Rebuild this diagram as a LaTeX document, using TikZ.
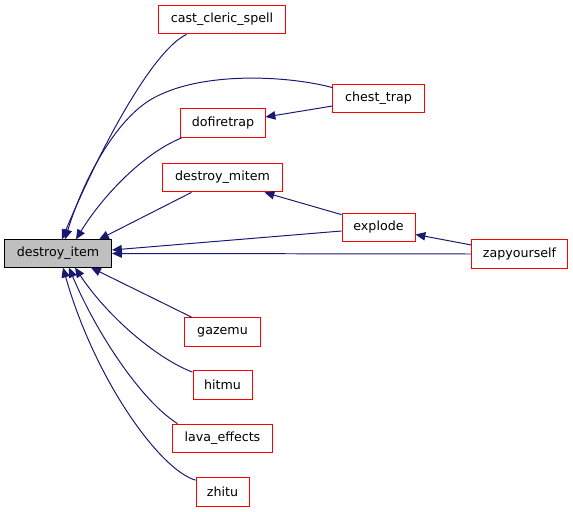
\documentclass[tikz,border=0pt]{standalone}
\usepackage{fontspec}
\setmainfont{DejaVu Sans}
\usetikzlibrary{arrows.meta,calc}
\definecolor{edgeblue}{HTML}{191970}
\tikzset{
  fn/.style={draw=red,line width=.7pt,minimum height=.72cm,inner xsep=1pt,
    font=\fontsize{9}{10}\selectfont},
  fnroot/.style={fn,draw=black,fill=black!25,minimum height=.68cm},
  callarrow/.style={draw=edgeblue,line width=.7pt,
    -{Triangle[length=7pt,width=6pt]}}
}
\begin{document}
\begin{tikzpicture}[x=.025cm,y=-.025cm]
\useasboundingbox (0,0) rectangle (573,512);
% functions
\node[fnroot,minimum width=2.675cm] (destroyitem) at (58,253.5) {destroy\_item};
\node[fn,minimum width=3.15cm] (castclericspell) at (222,19.5) {cast\_cleric\_spell};
\node[fn,minimum width=2.275cm] (chesttrap) at (378.5,98.5) {chest\_trap};
\node[fn,minimum width=2.1cm] (dofiretrap) at (223,123) {dofiretrap};
\node[fn,minimum width=2.975cm] (destroymitem) at (222.5,177.5) {destroy\_mitem};
\node[fn,minimum width=1.825cm] (explode) at (378.5,227.5) {explode};
\node[fn,minimum width=2.375cm] (zapyourself) at (519.5,254) {zapyourself};
\node[fn,minimum width=1.875cm] (gazemu) at (222.5,332) {gazemu};
\node[fn,minimum width=1.475cm] (hitmu) at (222.5,385) {hitmu};
\node[fn,minimum width=2.475cm] (lavaeffects) at (222.5,438.5) {lava\_effects};
\node[fn,minimum width=1.325cm] (zhitu) at (222.5,492) {zhitu};
% calls
\draw[callarrow] ($(castclericspell.south west)+(28,0)$) .. controls (150,52) and (95,160) .. ($(destroyitem.north west)+(58,0)$);
\draw[callarrow] ($(chesttrap.north west)+(0,4)$) .. controls (290,76) and (200,70) .. (150,100) .. controls (110,125) and (80,190) .. ($(destroyitem.north west)+(61,0)$);
\draw[callarrow] ($(chesttrap.west)+(0,7.5)$) -- ($(dofiretrap.east)+(0,-6)$);
\draw[callarrow] ($(dofiretrap.south west)+(1,0)$) .. controls (140,155) and (100,200) .. ($(destroyitem.north west)+(72,0)$);
\draw[callarrow] ($(destroymitem.south west)+(29,0)$) -- ($(destroyitem.north west)+(95,0)$);
\draw[callarrow] ($(explode.north west)+(0,2)$) -- ($(destroymitem.south west)+(102,0)$);
\draw[callarrow] ($(explode.west)+(0,3.5)$) -- ($(destroyitem.east)+(0,-3.5)$);
\draw[callarrow] ($(zapyourself.west)+(0,-9)$) -- ($(explode.east)+(0,7)$);
\draw[callarrow] (zapyourself.west) -- (destroyitem.east);
\draw[callarrow] ($(gazemu.north west)+(7,0)$) -- ($(destroyitem.south west)+(87,0)$);
\draw[callarrow] ($(hitmu.north west)+(0,2)$) .. controls (160,360) and (110,320) .. ($(destroyitem.south west)+(71,0)$);
\draw[callarrow] ($(lavaeffects.north west)+(5,0)$) .. controls (140,400) and (95,330) .. ($(destroyitem.south west)+(65,0)$);
\draw[callarrow] ($(zhitu.north west)+(0,3)$) .. controls (160,470) and (95,380) .. ($(destroyitem.south west)+(59,0)$);
\end{tikzpicture}
\end{document}
